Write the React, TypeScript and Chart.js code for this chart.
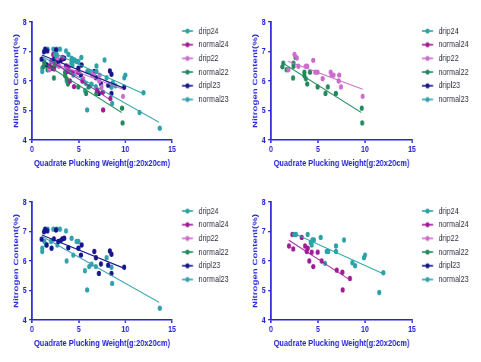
import React, { useEffect, useRef } from "react";
import { Chart, registerables } from "chart.js";

Chart.register(...registerables);

// ---------- data ----------
const seriesNames = ["drip24", "normal24", "drip22", "normal22", "dripl23", "normal23"];
const seriesColors = ["#2ba3a6", "#a01b98", "#cc6ccc", "#238a5d", "#16168c", "#33a1ad"];

const drip24X = [2.48, 2.66, 3.9, 5.28, 4.22, 4.4, 4.56, 4.33, 5.92, 6.1, 6.91, 6.91, 7.77, 5.75, 8.65, 8.94, 9.89, 10.0, 11.52, 11.95];
const drip24Y = [6.9, 6.9, 6.9, 6.8, 6.62, 6.71, 6.71, 6.54, 6.32, 6.32, 6.32, 6.51, 6.71, 5.92, 5.94, 5.84, 6.11, 6.2, 4.93, 5.6];

const normal24X = [1.91, 2.37, 2.27, 3.26, 3.62, 3.9, 3.8, 4.33, 4.08, 4.5, 4.96, 5.39, 6.99, 7.59, 7.62, 8.4];
const normal24Y = [6.51, 6.41, 6.9, 6.8, 6.51, 6.43, 6.32, 6.3, 6.0, 5.81, 6.3, 6.0, 5.69, 5.62, 5.02, 5.41];

const drip22X = [1.85, 2.5, 2.75, 2.9, 3.7, 3.85, 4.5, 4.7, 4.95, 5.5, 6.35, 6.45, 6.65, 7.25, 7.2, 7.45, 9.75];
const drip22Y = [6.38, 6.9, 6.78, 6.5, 6.5, 6.5, 6.7, 6.3, 6.3, 6.08, 6.3, 6.2, 6.2, 6.2, 6.0, 5.8, 5.48];

const normal22X = [1.2, 1.3, 1.65, 2.4, 2.4, 2.6, 2.35, 3.55, 3.55, 3.7, 3.85, 4.15, 4.95, 5.8, 6.05, 6.9, 9.65, 9.7];
const normal22Y = [6.48, 6.6, 6.38, 6.5, 6.6, 6.8, 6.1, 6.3, 6.18, 6.08, 5.9, 6.3, 5.8, 5.58, 5.8, 5.58, 5.08, 4.58];

const dripl23X = [1.03, 1.28, 1.4, 1.65, 1.57, 2.1, 2.35, 2.57, 2.82, 3.07, 3.24, 3.46, 3.89, 4.96, 5.31, 5.24, 6.67, 6.85, 7.17, 7.38, 8.16, 8.34, 8.52, 8.52, 9.88];
const dripl23Y = [6.74, 6.99, 7.08, 7.02, 6.54, 6.43, 6.75, 7.05, 6.66, 6.69, 6.75, 6.77, 6.45, 6.43, 6.54, 6.2, 6.32, 6.11, 5.58, 5.9, 5.86, 6.34, 6.23, 5.58, 5.79];

const normal23X = [1.1, 1.1, 1.32, 1.5, 1.68, 2.03, 2.28, 2.64, 2.71, 3.0, 3.64, 3.71, 4.24, 4.42, 4.78, 4.96, 5.67, 5.91, 6.13, 6.38, 6.84, 7.99, 8.52, 8.59, 13.69];
const normal23Y = [6.43, 6.32, 6.66, 6.54, 7.08, 6.66, 7.08, 7.08, 6.54, 7.08, 7.02, 6.0, 6.77, 6.2, 6.66, 6.66, 5.67, 5.02, 5.81, 5.89, 5.81, 6.11, 5.79, 5.24, 4.4];

// fitted regression line end points
const fitStartX = [2.4, 1.9, 1.8, 1.2, 1.05, 1.1];
const fitEndX = [12.0, 8.4, 9.75, 9.6, 9.9, 13.6];
const fitStartY = [6.94, 6.7, 6.67, 6.62, 6.88, 6.83];
const fitEndY = [5.56, 5.36, 5.72, 4.93, 5.75, 4.6];

const xTicks = [0, 5, 10, 15];
const yTicks = [4, 5, 6, 7, 8];

const xTitle = "Quadrate Plucking Weight(g:20x20cm)";
const yTitle = "Nitrogen Content(%)";

const seriesX = [drip24X, normal24X, drip22X, normal22X, dripl23X, normal23X];
const seriesY = [drip24Y, normal24Y, drip22Y, normal22Y, dripl23Y, normal23Y];

// panels: which series each shows
const panelSeries = [
  [0, 1, 2, 3, 4, 5],
  [2, 3],
  [4, 5],
  [0, 1],
];

// the figure is horizontally squeezed; draw wider, then squeeze with CSS
const SQUEEZE = 0.76;
const CANVAS_W = 316;
const CANVAS_H = 180;

const AXIS_BLUE = "#2626d6";
const SANS = "'Liberation Sans', Arial, sans-serif";

function makeMarker(color: string): HTMLCanvasElement {
  const c = document.createElement("canvas");
  c.width = 26;
  c.height = 10;
  const ctx = c.getContext("2d")!;
  ctx.strokeStyle = color;
  ctx.lineWidth = 1.6;
  ctx.beginPath();
  ctx.moveTo(9, 5);
  ctx.lineTo(23.5, 5);
  ctx.stroke();
  ctx.fillStyle = color;
  ctx.beginPath();
  ctx.arc(16.2, 5, 2.6, 0, Math.PI * 2);
  ctx.fill();
  return c;
}

function Panel({ idx, left, top, padRight }: { idx: number; left: number; top: number; padRight: number }) {
  const ref = useRef<HTMLCanvasElement | null>(null);
  useEffect(() => {
    if (!ref.current) return;
    const markers = seriesColors.map(makeMarker);
    const datasets: any[] = [];
    panelSeries[idx].forEach((s) => {
      datasets.push({
        type: "line",
        label: seriesNames[s] + " fit",
        data: [
          { x: fitStartX[s], y: fitStartY[s] },
          { x: fitEndX[s], y: fitEndY[s] },
        ],
        borderColor: seriesColors[s],
        borderWidth: 1.1,
        pointRadius: 0,
        fill: false,
      });
    });
    panelSeries[idx].forEach((s) => {
      datasets.push({
        type: "scatter",
        label: seriesNames[s],
        data: seriesX[s].map((x, i) => ({ x, y: seriesY[s][i] })),
        backgroundColor: seriesColors[s],
        borderColor: seriesColors[s],
        pointRadius: 2.7,
        pointBorderWidth: 0,
        showLine: false,
      });
    });
    const chart = new Chart(ref.current, {
      type: "scatter",
      data: { datasets },
      options: {
        animation: false,
        responsive: false,
        devicePixelRatio: 1,
        events: [],
        layout: { padding: { top: 22, right: padRight, bottom: 0, left: 0 } },
        plugins: {
          tooltip: { enabled: false },
          legend: {
            display: true,
            position: "right",
            align: "start",
            maxWidth: 80,
            labels: {
              usePointStyle: true,
              pointStyleWidth: 26,
              padding: 4.2,
              color: "#333344",
              font: { family: SANS, size: 9.5 },
              generateLabels: () =>
                seriesNames.map((n, i) => ({
                  text: n,
                  pointStyle: markers[i] as any,
                  fillStyle: seriesColors[i],
                  strokeStyle: seriesColors[i],
                  lineWidth: 0,
                  hidden: false,
                  fontColor: "#333344",
                })),
            },
          },
        },
        scales: {
          x: {
            type: "linear",
            min: 0,
            max: 15,
            afterBuildTicks: (s: any) => {
              s.ticks = xTicks.map((v) => ({ value: v }));
            },
            afterFit: (s: any) => {
              s.height = 40;
            },
            grid: { display: true, drawOnChartArea: false, drawTicks: true, tickLength: 3, color: AXIS_BLUE, lineWidth: 1.8 },
            border: { display: true, color: AXIS_BLUE, width: 1.5 },
            ticks: { color: AXIS_BLUE, padding: 1, maxRotation: 0, font: { family: SANS, size: 9.3, weight: "bold" } },
            title: {
              display: true,
              text: xTitle,
              color: AXIS_BLUE,
              padding: { top: 0, bottom: 11 },
              font: { family: SANS, size: 9.8, weight: "bold" },
            },
          },
          y: {
            type: "linear",
            min: 4,
            max: 8,
            afterBuildTicks: (s: any) => {
              s.ticks = yTicks.map((v) => ({ value: v }));
            },
            afterFit: (s: any) => {
              s.width = 42.1;
            },
            grid: { display: true, drawOnChartArea: false, drawTicks: true, tickLength: 3.9, color: AXIS_BLUE, lineWidth: 1.3 },
            border: { display: true, color: AXIS_BLUE, width: 2 },
            ticks: { color: AXIS_BLUE, padding: 3.3, font: { family: SANS, size: 9.3, weight: "bold" } },
            title: {
              display: true,
              text: yTitle,
              color: AXIS_BLUE,
              padding: { top: 15.3, bottom: 0 },
              font: { family: SANS, size: 9.7, weight: "bold" },
            },
          },
        },
      } as any,
    });
    return () => chart.destroy();
  }, [idx]);
  return (
    <canvas
      ref={ref}
      width={CANVAS_W}
      height={CANVAS_H}
      style={{
        position: "absolute",
        left,
        top,
        width: CANVAS_W,
        height: CANVAS_H,
        display: "block",
        transform: `scaleX(${SQUEEZE})`,
        transformOrigin: "0 0",
      }}
    />
  );
}

export default function App() {
  return (
    <div style={{ position: "absolute", left: 0, top: 0, width: 481, height: 362, background: "#ffffff", overflow: "hidden" }}>
      <Panel idx={0} left={0} top={0} padRight={9.7} />
      <Panel idx={1} left={239} top={0} padRight={8.4} />
      <Panel idx={2} left={0} top={180} padRight={9.7} />
      <Panel idx={3} left={239} top={180} padRight={8.4} />
    </div>
  );
}
